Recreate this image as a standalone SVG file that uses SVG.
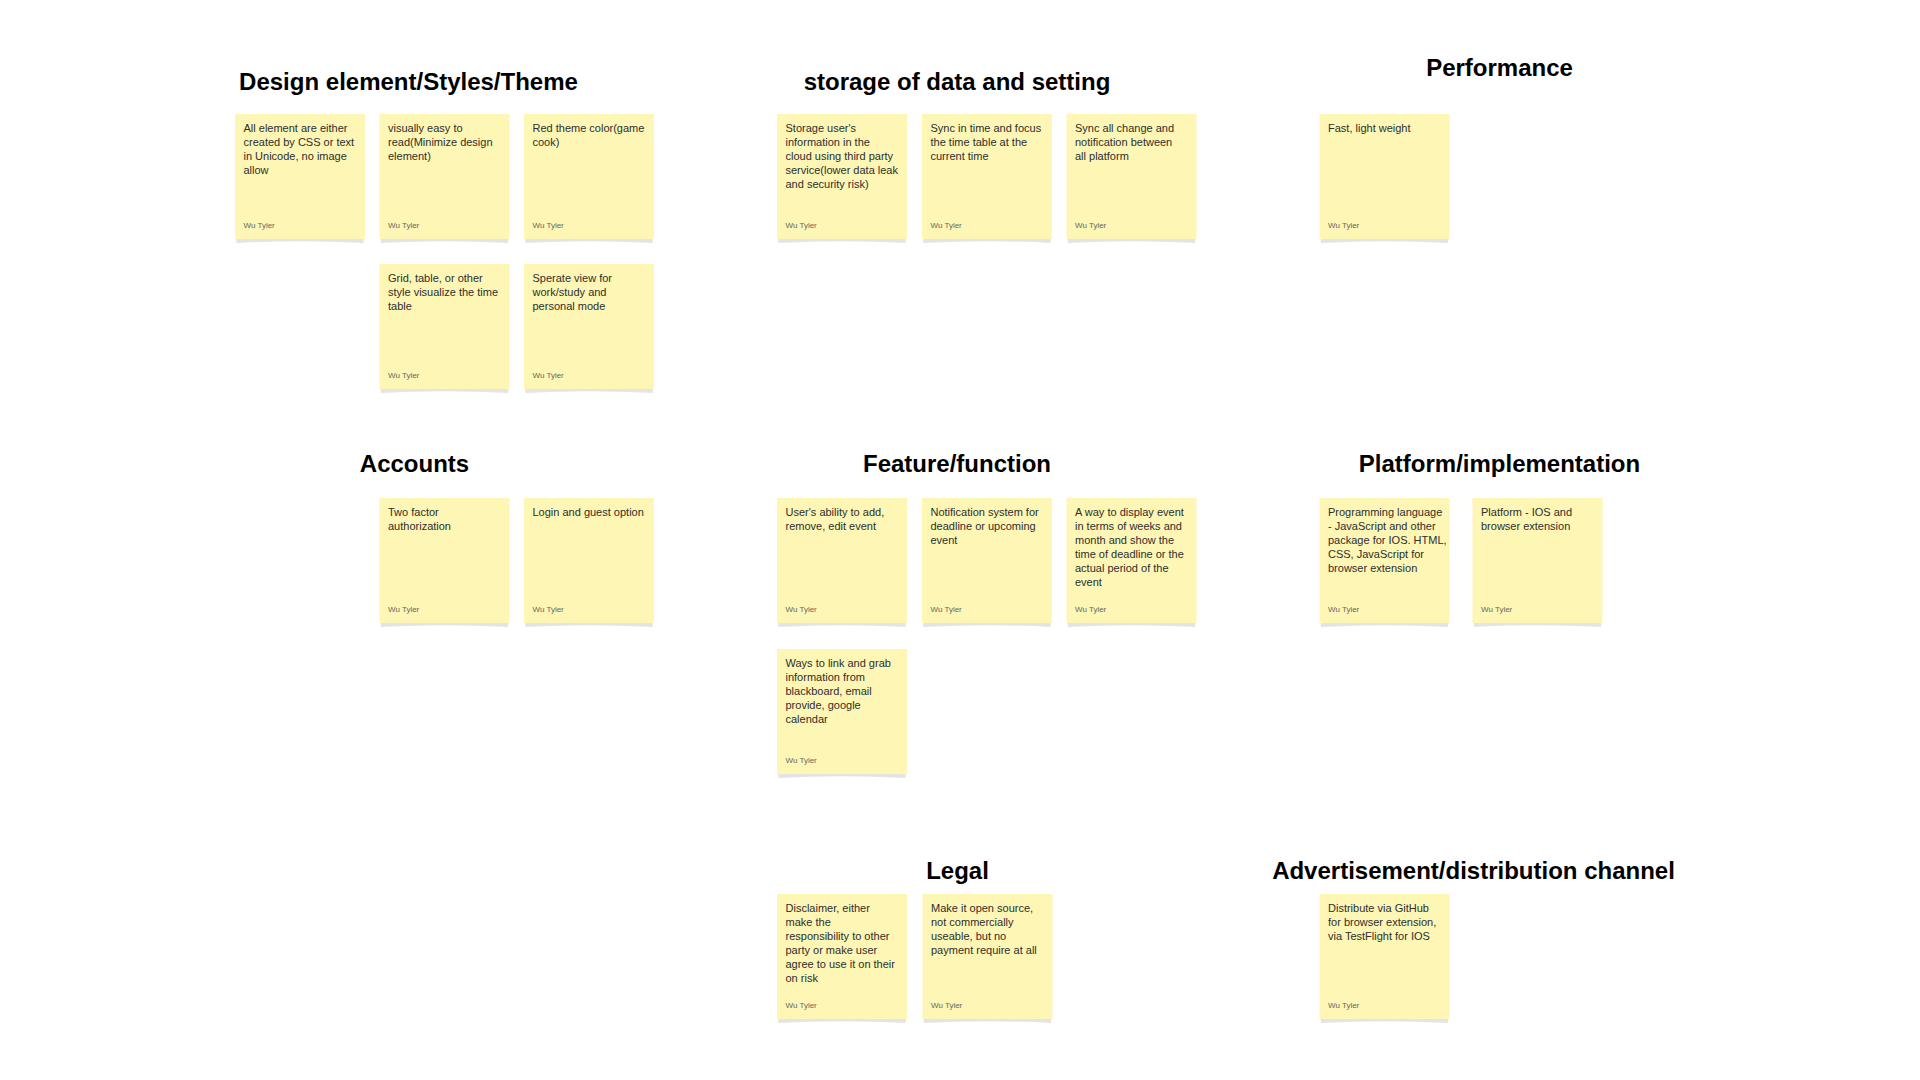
<svg xmlns="http://www.w3.org/2000/svg" xmlns:xlink="http://www.w3.org/1999/xlink" width="1920" height="1080" viewBox="0 0 1920 1080">
<style>
.h{font-family:"Liberation Sans",Arial,sans-serif;font-weight:bold;font-size:24px;fill:#000;text-anchor:middle}
.t{font-family:"Liberation Sans",Arial,sans-serif;font-size:11px;fill:#2e2e2e}
.a{font-family:"Liberation Sans",Arial,sans-serif;font-size:8px;fill:#666}
.paper{fill:#fdf6b4}
.sh{fill:#e4e4e4}
</style>
<defs>
<g id="note">
<path class="sh" d="M1,124 L129,124 L128.5,129 Q65,125.5 1.5,129 Z"/>
<rect class="paper" x="0" y="0" width="130" height="125"/>
</g>
</defs>
<rect x="0" y="0" width="1920" height="1080" fill="#fff"/>

<g id="headings">
<text class="h" x="408.5" y="90">Design element/Styles/Theme</text>
<text class="h" x="957" y="90">storage of data and setting</text>
<text class="h" x="1499.5" y="76">Performance</text>
<text class="h" x="414.5" y="472">Accounts</text>
<text class="h" x="957" y="472">Feature/function</text>
<text class="h" x="1499.5" y="472">Platform/implementation</text>
<text class="h" x="957.5" y="879">Legal</text>
<text class="h" x="1473.5" y="879">Advertisement/distribution channel</text>
</g>

<g id="connectors"></g>

<g id="n-design-1" transform="translate(235,114)">
<use xlink:href="#note"/>
<text class="t" x="8.5" y="18"><tspan x="8.5">All element are either</tspan><tspan x="8.5" dy="14">created by CSS or text</tspan><tspan x="8.5" dy="14">in Unicode, no image</tspan><tspan x="8.5" dy="14">allow</tspan></text>
<text class="a" x="8.5" y="113.5">Wu Tyler</text>
</g>
<g id="n-design-2" transform="translate(379.5,114)">
<use xlink:href="#note"/>
<text class="t" x="8.5" y="18"><tspan x="8.5">visually easy to</tspan><tspan x="8.5" dy="14">read(Minimize design</tspan><tspan x="8.5" dy="14">element)</tspan></text>
<text class="a" x="8.5" y="113.5">Wu Tyler</text>
</g>
<g id="n-design-3" transform="translate(524,114)">
<use xlink:href="#note"/>
<text class="t" x="8.5" y="18"><tspan x="8.5">Red theme color(game</tspan><tspan x="8.5" dy="14">cook)</tspan></text>
<text class="a" x="8.5" y="113.5">Wu Tyler</text>
</g>
<g id="n-design-4" transform="translate(379.5,264)">
<use xlink:href="#note"/>
<text class="t" x="8.5" y="18"><tspan x="8.5">Grid, table, or other</tspan><tspan x="8.5" dy="14">style visualize the time</tspan><tspan x="8.5" dy="14">table</tspan></text>
<text class="a" x="8.5" y="113.5">Wu Tyler</text>
</g>
<g id="n-design-5" transform="translate(524,264)">
<use xlink:href="#note"/>
<text class="t" x="8.5" y="18"><tspan x="8.5">Sperate view for</tspan><tspan x="8.5" dy="14">work/study and</tspan><tspan x="8.5" dy="14">personal mode</tspan></text>
<text class="a" x="8.5" y="113.5">Wu Tyler</text>
</g>

<g id="n-storage-1" transform="translate(777,114)">
<use xlink:href="#note"/>
<text class="t" x="8.5" y="18"><tspan x="8.5">Storage user's</tspan><tspan x="8.5" dy="14">information in the</tspan><tspan x="8.5" dy="14">cloud using third party</tspan><tspan x="8.5" dy="14">service(lower data leak</tspan><tspan x="8.5" dy="14">and security risk)</tspan></text>
<text class="a" x="8.5" y="113.5">Wu Tyler</text>
</g>
<g id="n-storage-2" transform="translate(922,114)">
<use xlink:href="#note"/>
<text class="t" x="8.5" y="18"><tspan x="8.5">Sync in time and focus</tspan><tspan x="8.5" dy="14">the time table at the</tspan><tspan x="8.5" dy="14">current time</tspan></text>
<text class="a" x="8.5" y="113.5">Wu Tyler</text>
</g>
<g id="n-storage-3" transform="translate(1066.5,114)">
<use xlink:href="#note"/>
<text class="t" x="8.5" y="18"><tspan x="8.5">Sync all change and</tspan><tspan x="8.5" dy="14">notification between</tspan><tspan x="8.5" dy="14">all platform</tspan></text>
<text class="a" x="8.5" y="113.5">Wu Tyler</text>
</g>

<g id="n-performance-1" transform="translate(1319.5,114)">
<use xlink:href="#note"/>
<text class="t" x="8.5" y="18">Fast, light weight</text>
<text class="a" x="8.5" y="113.5">Wu Tyler</text>
</g>

<g id="n-accounts-1" transform="translate(379.5,498)">
<use xlink:href="#note"/>
<text class="t" x="8.5" y="18"><tspan x="8.5">Two factor</tspan><tspan x="8.5" dy="14">authorization</tspan></text>
<text class="a" x="8.5" y="113.5">Wu Tyler</text>
</g>
<g id="n-accounts-2" transform="translate(524,498)">
<use xlink:href="#note"/>
<text class="t" x="8.5" y="18">Login and guest option</text>
<text class="a" x="8.5" y="113.5">Wu Tyler</text>
</g>

<g id="n-feature-1" transform="translate(777,498)">
<use xlink:href="#note"/>
<text class="t" x="8.5" y="18"><tspan x="8.5">User's ability to add,</tspan><tspan x="8.5" dy="14">remove, edit event</tspan></text>
<text class="a" x="8.5" y="113.5">Wu Tyler</text>
</g>
<g id="n-feature-2" transform="translate(922,498)">
<use xlink:href="#note"/>
<text class="t" x="8.5" y="18"><tspan x="8.5">Notification system for</tspan><tspan x="8.5" dy="14">deadline or upcoming</tspan><tspan x="8.5" dy="14">event</tspan></text>
<text class="a" x="8.5" y="113.5">Wu Tyler</text>
</g>
<g id="n-feature-3" transform="translate(1066.5,498)">
<use xlink:href="#note"/>
<text class="t" x="8.5" y="18"><tspan x="8.5">A way to display event</tspan><tspan x="8.5" dy="14">in terms of weeks and</tspan><tspan x="8.5" dy="14">month and show the</tspan><tspan x="8.5" dy="14">time of deadline or the</tspan><tspan x="8.5" dy="14">actual period of the</tspan><tspan x="8.5" dy="14">event</tspan></text>
<text class="a" x="8.5" y="113.5">Wu Tyler</text>
</g>
<g id="n-feature-4" transform="translate(777,649)">
<use xlink:href="#note"/>
<text class="t" x="8.5" y="18"><tspan x="8.5">Ways to link and grab</tspan><tspan x="8.5" dy="14">information from</tspan><tspan x="8.5" dy="14">blackboard, email</tspan><tspan x="8.5" dy="14">provide, google</tspan><tspan x="8.5" dy="14">calendar</tspan></text>
<text class="a" x="8.5" y="113.5">Wu Tyler</text>
</g>

<g id="n-platform-1" transform="translate(1319.5,498)">
<use xlink:href="#note"/>
<text class="t" x="8.5" y="18"><tspan x="8.5">Programming language</tspan><tspan x="8.5" dy="14">- JavaScript and other</tspan><tspan x="8.5" dy="14">package for IOS. HTML,</tspan><tspan x="8.5" dy="14">CSS, JavaScript for</tspan><tspan x="8.5" dy="14">browser extension</tspan></text>
<text class="a" x="8.5" y="113.5">Wu Tyler</text>
</g>
<g id="n-platform-2" transform="translate(1472.5,498)">
<use xlink:href="#note"/>
<text class="t" x="8.5" y="18"><tspan x="8.5">Platform - IOS and</tspan><tspan x="8.5" dy="14">browser extension</tspan></text>
<text class="a" x="8.5" y="113.5">Wu Tyler</text>
</g>

<g id="n-legal-1" transform="translate(777,894)">
<use xlink:href="#note"/>
<text class="t" x="8.5" y="18"><tspan x="8.5">Disclaimer, either</tspan><tspan x="8.5" dy="14">make the</tspan><tspan x="8.5" dy="14">responsibility to other</tspan><tspan x="8.5" dy="14">party or make user</tspan><tspan x="8.5" dy="14">agree to use it on their</tspan><tspan x="8.5" dy="14">on risk</tspan></text>
<text class="a" x="8.5" y="113.5">Wu Tyler</text>
</g>
<g id="n-legal-2" transform="translate(922.5,894)">
<use xlink:href="#note"/>
<text class="t" x="8.5" y="18"><tspan x="8.5">Make it open source,</tspan><tspan x="8.5" dy="14">not commercially</tspan><tspan x="8.5" dy="14">useable, but no</tspan><tspan x="8.5" dy="14">payment require at all</tspan></text>
<text class="a" x="8.5" y="113.5">Wu Tyler</text>
</g>

<g id="n-advert-1" transform="translate(1319.5,894)">
<use xlink:href="#note"/>
<text class="t" x="8.5" y="18"><tspan x="8.5">Distribute via GitHub</tspan><tspan x="8.5" dy="14">for browser extension,</tspan><tspan x="8.5" dy="14">via TestFlight for IOS</tspan></text>
<text class="a" x="8.5" y="113.5">Wu Tyler</text>
</g>
</svg>
